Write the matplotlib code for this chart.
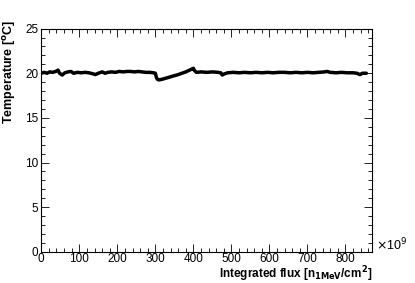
import matplotlib
matplotlib.use("Agg")
import matplotlib.pyplot as plt
from matplotlib.ticker import MultipleLocator

# values (flux in units of 1e9 n_1MeV/cm^2)
flux = [0, 8, 15, 22, 30, 38, 44, 48, 55, 62, 70, 78, 85, 95, 105, 115, 125,
        135, 142, 150, 160, 168, 175, 185, 195, 205, 215, 225, 235, 245, 255,
        265, 275, 285, 295, 300, 303, 306, 310, 320, 340, 360, 380, 395, 400,
        403, 408, 420, 435, 450, 465, 472, 476, 480, 490, 505, 520, 535, 550,
        565, 580, 595, 610, 625, 640, 655, 670, 685, 700, 715, 730, 745, 752,
        760, 775, 790, 805, 820, 830, 838, 845, 855]
temp = [20.0, 20.1, 20.0, 20.15, 20.1, 20.2, 20.35, 20.0, 19.8, 20.05, 20.15,
        20.2, 20.0, 20.1, 20.05, 20.1, 20.05, 19.95, 19.85, 20.0, 20.15, 20.0,
        20.1, 20.15, 20.1, 20.2, 20.15, 20.2, 20.2, 20.15, 20.2, 20.15, 20.1,
        20.1, 20.05, 20.0, 19.5, 19.3, 19.25, 19.35, 19.6, 19.85, 20.15, 20.45,
        20.55, 20.3, 20.1, 20.15, 20.1, 20.15, 20.1, 20.05, 19.8, 19.9, 20.05,
        20.1, 20.05, 20.1, 20.05, 20.1, 20.05, 20.1, 20.05, 20.1, 20.1, 20.05,
        20.1, 20.05, 20.1, 20.05, 20.1, 20.15, 20.2, 20.1, 20.05, 20.1, 20.05,
        20.05, 20.0, 19.85, 20.0, 20.0]

plt.rcParams["font.family"] = ["Liberation Sans", "DejaVu Sans"]

fig = plt.figure(figsize=(4.15, 2.83), dpi=100)
ax = fig.add_axes([0.0995, 0.11, 0.797, 0.789])
ax.plot(flux, temp, color="black", lw=2.5, solid_capstyle="round")

ax.set_xlim(0, 870)
ax.set_ylim(0, 25)
ax.xaxis.set_major_locator(MultipleLocator(100))
ax.xaxis.set_minor_locator(MultipleLocator(20))
ax.yaxis.set_major_locator(MultipleLocator(5))
ax.yaxis.set_minor_locator(MultipleLocator(1))
ax.tick_params(which="both", direction="in", top=True, right=True,
               labelsize=8.5, width=0.6, pad=2)
ax.tick_params(axis="x", pad=1)
ax.tick_params(which="major", length=6)
ax.tick_params(which="minor", length=3)
for s in ax.spines.values():
    s.set_linewidth(0.8)

ax.set_xlabel("Integrated flux [n$_{\\mathbf{1MeV}}$/cm$^{\\mathbf{2}}$]",
              fontsize=8.5, fontweight="bold", ha="right", x=1.0, labelpad=-0.5)
ax.set_ylabel("Temperature [$^{\\mathbf{o}}$C]", fontsize=9,
              fontweight="bold", ha="right", y=1.04, labelpad=5)
fig.text(0.905, 0.105, "$\\times$10$^{9}$", fontsize=9, va="bottom")

fig.savefig("out.png", dpi=100)
